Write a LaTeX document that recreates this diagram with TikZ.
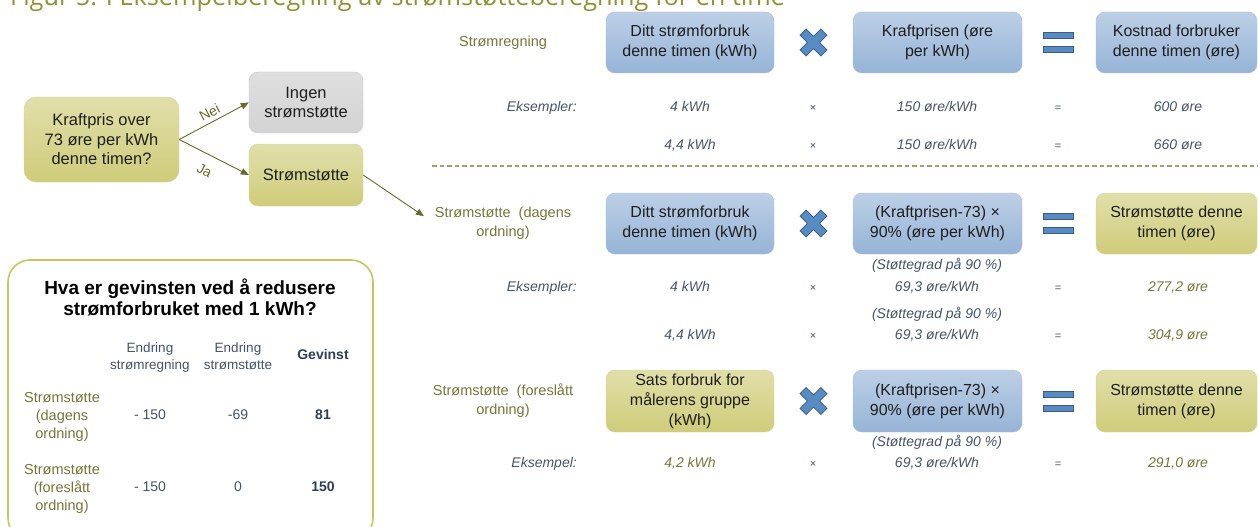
\documentclass[tikz,border=0pt]{standalone}
\usepackage{fontspec}
\setmainfont{Liberation Sans}
\newfontfamily\figfont{Open Sans}
\usetikzlibrary{arrows.meta}

\definecolor{bluetop}{RGB}{189,207,230}
\definecolor{bluebot}{RGB}{150,180,215}
\definecolor{blueline}{RGB}{163,188,218}
\definecolor{olivetop}{RGB}{225,223,170}
\definecolor{olivebot}{RGB}{207,204,122}
\definecolor{oliveline}{RGB}{212,210,142}
\definecolor{graytop}{RGB}{223,223,223}
\definecolor{graybot}{RGB}{211,211,211}
\definecolor{grayline}{RGB}{198,198,198}
\definecolor{olivetxt}{RGB}{118,118,58}
\definecolor{slatetxt}{RGB}{68,84,106}
\definecolor{slatebold}{RGB}{44,64,88}
\definecolor{figolive}{RGB}{145,145,52}
\definecolor{signfill}{RGB}{88,139,194}
\definecolor{signline}{RGB}{56,93,138}
\definecolor{arrowolive}{RGB}{105,105,45}
\definecolor{frameolive}{RGB}{198,198,92}
\definecolor{dashcol}{RGB}{160,160,110}

\begin{document}
\begin{tikzpicture}[x=1pt,y=-1pt,anchor=mid,
    boxtext/.style={anchor=center,align=center,inner sep=0pt,rounded corners=9pt,text=black!88,font=\fontsize{16}{20}\selectfont},
    bluebox/.style={boxtext,draw=blueline,top color=bluetop,bottom color=bluebot},
    olivebox/.style={boxtext,draw=oliveline,top color=olivetop,bottom color=olivebot},
    graybox/.style={boxtext,draw=grayline,top color=graytop,bottom color=graybot},
    rowlabel/.style={anchor=center,align=center,inner sep=0pt,text=olivetxt,font=\fontsize{14.5}{19}\selectfont},
    ex/.style={inner sep=0pt,text=slatetxt,font=\fontsize{14}{17}\selectfont\itshape},
    exolive/.style={ex,text=olivetxt},
    small/.style={inner sep=0pt,text=slatetxt,font=\fontsize{11}{13}\selectfont},
    flow/.style={draw=arrowolive,line width=0.9pt,-{Triangle[length=8pt,width=6.5pt]}},
    flowlabel/.style={text=arrowolive,inner sep=0pt,font=\fontsize{14}{16}\selectfont},
    sign/.style={draw=signline,fill=signfill,line width=1pt},
    head/.style={anchor=center,align=center,inner sep=0pt,text=slatetxt,font=\fontsize{13.5}{17}\selectfont},
    tabrow/.style={anchor=center,align=center,inner sep=0pt,text=olivetxt,font=\fontsize{14.5}{18}\selectfont},
    num/.style={inner sep=0pt,text=slatetxt,font=\fontsize{14}{17}\selectfont},
    numbold/.style={num,text=slatebold,font=\fontsize{14}{17}\selectfont\bfseries}]
  \useasboundingbox (0,0) rectangle (1258,527);
  \clip (0,0) rectangle (1258,527);

  % figure title, cut at the top
  \node[anchor=base west,inner sep=0pt,text=figolive,font=\figfont\fontsize{25.3}{30}\selectfont] (fig) at (10,6) {Figur 5: I Eksempelberegning av strømstøtteberegning for en time};

  % decision on the left
  \node[olivebox,minimum width=155pt,minimum height=85pt,rounded corners=12pt,font=\fontsize{16.5}{19.5}\selectfont] (over) at (101.5,139.5) {Kraftpris over\\73 øre per kWh\\denne timen?};
  \node[graybox,minimum width=114pt,minimum height=61pt,font=\fontsize{16.5}{19.5}\selectfont] (ingen) at (306,102.5) {Ingen\\strømstøtte};
  \node[olivebox,minimum width=114pt,minimum height=62pt,font=\fontsize{16.5}{19.5}\selectfont] (stotte) at (306,175) {Strømstøtte};
  \draw[flow] (over.east) to node[flowlabel,sloped,above=4pt] {Nei} (ingen.west);
  \draw[flow] (over.east) to node[flowlabel,sloped,below=11pt,pos=0.47] {Ja} (stotte.west);

  % strømregning
  \node[rowlabel] (bill) at (503,43) {Strømregning};
  \node[bluebox,minimum width=168pt,minimum height=61pt] (use1) at (690,42.5) {Ditt strømforbruk\\denne timen (kWh)};
  \node[bluebox,minimum width=169pt,minimum height=61pt] (price1) at (937.5,42.5) {Kraftprisen (øre\\per kWh)};
  \node[bluebox,minimum width=161pt,minimum height=61pt] (cost1) at (1176.5,42.5) {Kostnad forbruker\\denne timen (øre)};
  \node[ex,anchor=mid east] (eks1) at (577,109) {Eksempler:};
  \node[ex] (a1) at (690,109) {4 kWh};
  \node[small] (m1) at (813,109) {×};
  \node[ex] (b1) at (937,109) {150 øre/kWh};
  \node[small] (q1) at (1058,109) {=};
  \node[ex] (c1) at (1178,109) {600 øre};
  \node[ex] (a2) at (690,147) {4,4 kWh};
  \node[small] (m2) at (813,147) {×};
  \node[ex] (b2) at (937,147) {150 øre/kWh};
  \node[small] (q2) at (1058,147) {=};
  \node[ex] (c2) at (1178,147) {660 øre};
  \draw[dashcol,line width=1.3pt,dash pattern=on 4.5pt off 3pt] (432,166) -- (1258,166);

  % strømstøtte, dagens ordning
  \node[rowlabel] (sub1) at (503,223.5) {Strømstøtte~ (dagens\\ordning)};
  \draw[flow,shorten >=13pt] (stotte.east) to (sub1.west);
  \node[bluebox,minimum width=168pt,minimum height=61pt] (use2) at (690,223.5) {Ditt strømforbruk\\denne timen (kWh)};
  \node[bluebox,minimum width=169pt,minimum height=61pt] (price2) at (937.5,223.5) {(Kraftprisen-73) ×\\90\% (øre per kWh)};
  \node[olivebox,minimum width=161pt,minimum height=61pt] (sup2) at (1176.5,223.5) {Strømstøtte denne\\timen (øre)};
  \node[ex] (g1) at (937,267) {(Støttegrad på 90~\%)};
  \node[ex,anchor=mid east] (eks2) at (577,289) {Eksempler:};
  \node[ex] (a3) at (690,289) {4 kWh};
  \node[small] (m3) at (813,289) {×};
  \node[ex] (b3) at (937,289) {69,3 øre/kWh};
  \node[small] (q3) at (1058,289) {=};
  \node[exolive] (c3) at (1178,289) {277,2 øre};
  \node[ex] (g2) at (937,316) {(Støttegrad på 90~\%)};
  \node[ex] (a4) at (690,337) {4,4 kWh};
  \node[small] (m4) at (813,337) {×};
  \node[ex] (b4) at (937,337) {69,3 øre/kWh};
  \node[small] (q4) at (1058,337) {=};
  \node[exolive] (c4) at (1178,337) {304,9 øre};

  % strømstøtte, foreslått ordning
  \node[rowlabel] (sub2) at (503,401) {Strømstøtte~ (foreslått\\ordning)};
  \node[olivebox,minimum width=168pt,minimum height=62pt] (rate3) at (690,401) {Sats forbruk for\\målerens gruppe\\(kWh)};
  \node[bluebox,minimum width=169pt,minimum height=62pt] (price3) at (937.5,401) {(Kraftprisen-73) ×\\90\% (øre per kWh)};
  \node[olivebox,minimum width=161pt,minimum height=62pt] (sup3) at (1176.5,401) {Strømstøtte denne\\timen (øre)};
  \node[ex] (g3) at (937,444) {(Støttegrad på 90~\%)};
  \node[ex,anchor=mid east] (eks3) at (577,465) {Eksempel:};
  \node[exolive] (a5) at (690,465) {4,2 kWh};
  \node[small] (m5) at (813,465) {×};
  \node[ex] (b5) at (937,465) {69,3 øre/kWh};
  \node[small] (q5) at (1058,465) {=};
  \node[exolive] (c5) at (1178,465) {291,0 øre};

  % big times and equals signs
  \foreach \y in {42.5,223.5,401} {
    \draw[signline,line width=9.5pt] (802.8,\y-10.7) -- (824.2,\y+10.7) (802.8,\y+10.7) -- (824.2,\y-10.7);
    \draw[signfill,line width=7.5pt] (803.5,\y-10) -- (823.5,\y+10) (803.5,\y+10) -- (823.5,\y-10);
    \draw[sign] (1043,\y-10) rectangle (1073,\y-4) (1043,\y+4) rectangle (1073,\y+10);
  }

  % gevinst table
  \node[draw=frameolive,fill=white,line width=1.6pt,rounded corners=22pt,minimum width=365pt,minimum height=280pt,anchor=center,inner sep=0pt] (gain) at (190.5,400) {};
  \node[anchor=center,align=center,inner sep=0pt,font=\fontsize{19}{21.5}\selectfont\bfseries] (gq) at (190,297.5) {Hva er gevinsten ved å redusere\\strømforbruket med 1 kWh?};
  \node[head] (h1) at (150,357.5) {Endring\\strømregning};
  \node[head] (h2) at (238,356.5) {Endring\\strømstøtte};
  \node[numbold] (h3) at (323,357) {Gevinst};
  \node[tabrow] (r1) at (62,417) {Strømstøtte\\(dagens\\ordning)};
  \node[num] (r1a) at (150,417) {- 150};
  \node[num] (r1b) at (238,417) {-69};
  \node[numbold] (r1c) at (323,417) {81};
  \node[tabrow] (r2) at (62,489) {Strømstøtte\\(foreslått\\ordning)};
  \node[num] (r2a) at (150,489) {- 150};
  \node[num] (r2b) at (238,489) {0};
  \node[numbold] (r2c) at (323,489) {150};
\end{tikzpicture}
\end{document}
